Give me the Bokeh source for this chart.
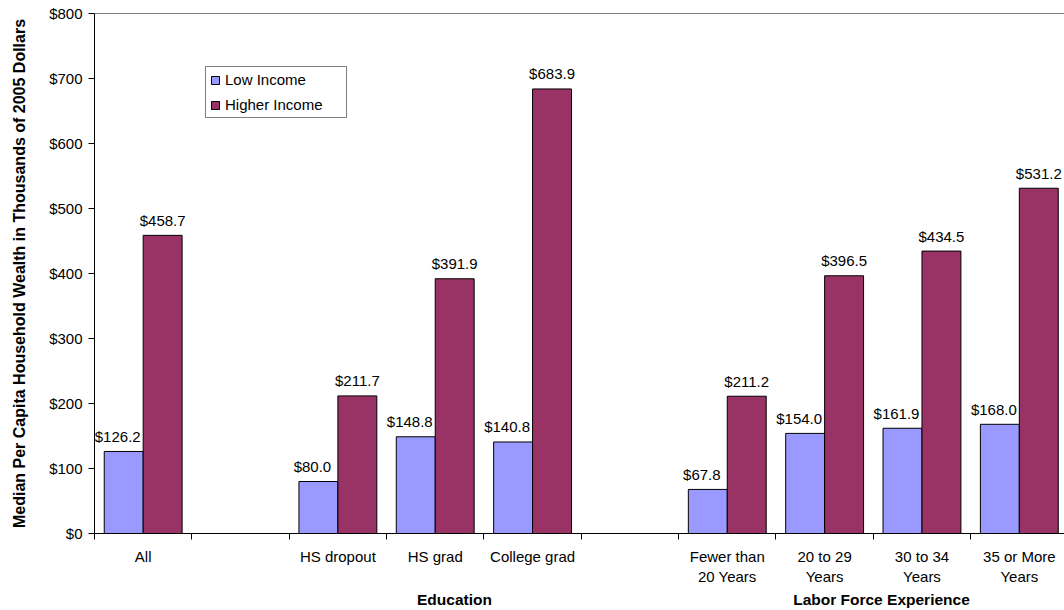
from bokeh.plotting import figure
from bokeh.models import (ColumnDataSource, FixedTicker, PrintfTickFormatter,
                          Span, Legend, LegendItem, LinearAxis)
from bokeh.embed import file_html
from bokeh.resources import INLINE
from bokeh.core.properties import value

# ---- data ----
categories = ["All", "", "HS dropout", "HS grad", "College grad", "",
              "Fewer than\n20 Years", "20 to 29\nYears", "30 to 34\nYears", "35 or More\nYears"]
low_income = [126.2, 80.0, 148.8, 140.8, 67.8, 154.0, 161.9, 168.0]
higher_income = [458.7, 211.7, 391.9, 683.9, 211.2, 396.5, 434.5, 531.2]
y_ticks = [0, 100, 200, 300, 400, 500, 600, 700, 800]
series_names = ["Low Income", "Higher Income"]
group_labels = ["Education", "Labor Force Experience"]
y_title = "Median Per Capita Household Wealth in Thousands of 2005 Dollars"

FONT = "Liberation Sans"
LOW_COLOR = "#9999FF"
HIGH_COLOR = "#993366"

slots = [i for i, c in enumerate(categories) if c]
low_src = ColumnDataSource(dict(x=[s - 0.2 for s in slots], top=low_income,
                                lab=["$%.1f" % v for v in low_income]))
high_src = ColumnDataSource(dict(x=[s + 0.2 for s in slots], top=higher_income,
                                 lab=["$%.1f" % v for v in higher_income]))

W, H = 1064, 610
left, top, bottom = 94, 13, 75
frame_w = W - left
slot_px = 97.35

p = figure(width=W, height=H, output_backend="svg", toolbar_location=None,
           x_range=(-0.5, -0.5 + frame_w / slot_px), y_range=(0, 800),
           min_border_left=left, min_border_right=0, min_border_top=top,
           min_border_bottom=bottom)
p.outline_line_color = None
p.background_fill_color = "white"
p.border_fill_color = "white"
p.xgrid.visible = False
p.ygrid.visible = False

r_low = p.vbar(x="x", top="top", width=0.4, source=low_src, fill_color=LOW_COLOR,
               line_color="black", line_width=1)
r_high = p.vbar(x="x", top="top", width=0.4, source=high_src, fill_color=HIGH_COLOR,
                line_color="black", line_width=1)

for src, dx in ((low_src, -6), (high_src, 0)):
    p.text(x="x", y="top", text="lab", source=src, text_align="center",
           text_baseline="alphabetic", x_offset=dx, y_offset=-15, text_font=value(FONT),
           text_font_size="15px", text_color="black")

p.add_layout(Span(location=800, dimension="width", line_color="black", line_width=1))

# y axis
ya = p.yaxis[0]
ya.ticker = FixedTicker(ticks=y_ticks)
ya.formatter = PrintfTickFormatter(format="$%d")
ya.axis_line_color = "black"
ya.major_tick_line_color = "black"
ya.major_tick_in = 0
ya.major_tick_out = 6
ya.minor_tick_line_color = None
ya.major_label_standoff = 6
ya.major_label_text_font = FONT
ya.major_label_text_font_size = "15px"
ya.major_label_text_color = "black"
ya.axis_label = y_title
ya.axis_label_text_font = FONT
ya.axis_label_text_font_size = "16px"
ya.axis_label_text_font_style = "bold"
ya.axis_label_text_color = "black"
ya.axis_label_standoff = 18

# x axis (category labels, ticks between categories)
xa = p.xaxis[0]
xa.ticker = FixedTicker(ticks=list(range(len(categories))),
                        minor_ticks=[i - 0.5 for i in range(len(categories) + 1)])
xa.major_label_overrides = {i: c for i, c in enumerate(categories)}
xa.axis_line_color = "black"
xa.major_tick_line_color = None
xa.major_tick_in = 0
xa.major_tick_out = 0
xa.minor_tick_line_color = "black"
xa.minor_tick_in = 0
xa.minor_tick_out = 6
xa.major_label_standoff = 8
xa.major_label_text_font = FONT
xa.major_label_text_font_size = "15px"
xa.major_label_text_color = "black"

# group titles under the category labels (second, line-less axis)
group_x = [3.198, 7.584]
ga = LinearAxis(ticker=FixedTicker(ticks=group_x, minor_ticks=[]),
                major_label_overrides={gx: t for gx, t in zip(group_x, group_labels)},
                axis_line_color=None, major_tick_line_color=None, minor_tick_line_color=None,
                major_tick_in=0, major_tick_out=0, minor_tick_in=0, minor_tick_out=0,
                major_label_standoff=3, major_label_text_font=FONT,
                major_label_text_font_size="15.5px", major_label_text_font_style="bold",
                major_label_text_color="black")
p.add_layout(ga, "below")

legend = Legend(items=[LegendItem(label=series_names[0], renderers=[r_low]),
                       LegendItem(label=series_names[1], renderers=[r_high])],
                location=(111, 415), orientation="vertical",
                border_line_color="black", border_line_width=1,
                background_fill_color="white", background_fill_alpha=1,
                padding=4, spacing=8, margin=0,
                glyph_width=10, glyph_height=10, label_height=17, label_width=117,
                label_standoff=5, label_text_font=FONT, label_text_font_size="15px",
                label_text_color="black", label_text_baseline="middle")
p.add_layout(legend)

open("out.html", "w").write(file_html(p, INLINE))
